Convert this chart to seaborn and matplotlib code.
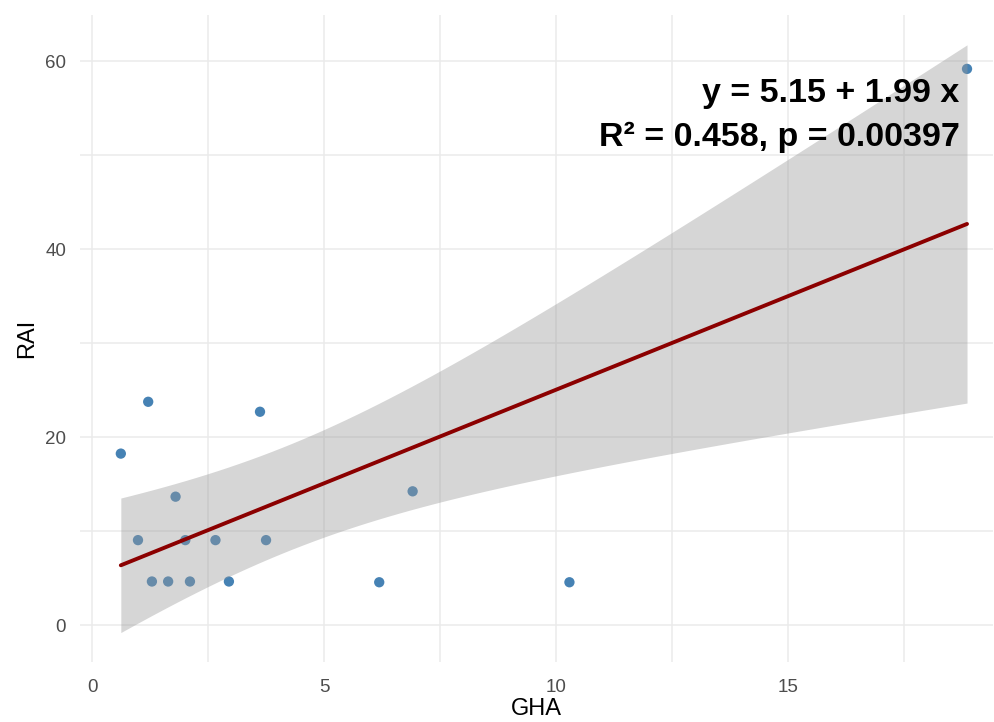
import numpy as np
import pandas as pd
import matplotlib
matplotlib.use("Agg")
import matplotlib.pyplot as plt
from matplotlib.ticker import MultipleLocator
import seaborn as sns

# GHA vs RAI observations
gha = [0.62, 1.21, 3.62, 1.80, 0.99, 2.01, 2.66, 3.75,
       1.29, 1.64, 2.11, 2.95, 6.19, 6.91, 10.29, 18.86]
rai = [18.26, 23.77, 22.71, 13.68, 9.06, 9.06, 9.06, 9.06,
       4.66, 4.66, 4.66, 4.66, 4.58, 14.25, 4.58, 59.17]

# Fitted model as reported in the annotation
intercept = 5.15
slope = 1.99
r_squared = 0.458
p_value = 0.00397

df = pd.DataFrame({"GHA": gha, "RAI": rai})

sns.set_theme(style="whitegrid")
plt.rcParams["font.family"] = ["Liberation Sans", "DejaVu Sans"]

fig = plt.figure(figsize=(9.95, 7.22), dpi=100)
ax = fig.add_axes([80 / 995, 1 - 662 / 722, 913 / 995, 647 / 722])

# points
sns.scatterplot(data=df, x="GHA", y="RAI", ax=ax, color="#4682B4",
                s=55, edgecolor="none", linewidth=0, zorder=3)

# 95% confidence band for the mean response (t, df = n - 2)
x = np.asarray(gha)
y = np.asarray(rai)
n = len(x)
resid = y - (intercept + slope * x)
sigma = np.sqrt(np.sum(resid ** 2) / (n - 2))
sxx = np.sum((x - x.mean()) ** 2)
t_crit = 2.144787  # t(0.975, 14)
grid = np.linspace(x.min(), x.max(), 80)
fit = intercept + slope * grid
se = sigma * np.sqrt(1 / n + (grid - x.mean()) ** 2 / sxx)
ax.fill_between(grid, fit - t_crit * se, fit + t_crit * se,
                color="#999999", alpha=0.4, linewidth=0, zorder=4)

line_df = pd.DataFrame({"GHA": grid, "RAI": fit})
sns.lineplot(data=line_df, x="GHA", y="RAI", ax=ax, color="#8B0000",
             linewidth=2.8, zorder=5)

ax.set_xlim(-0.26, 19.42)
ax.set_ylim(-3.9, 64.9)
ax.xaxis.set_major_locator(MultipleLocator(5))
ax.xaxis.set_minor_locator(MultipleLocator(2.5))
ax.yaxis.set_major_locator(MultipleLocator(20))
ax.yaxis.set_minor_locator(MultipleLocator(10))
ax.grid(which="major", color="#EBEBEB", linewidth=1.1)
ax.grid(which="minor", color="#EBEBEB", linewidth=1.1)
ax.set_axisbelow(True)
for s in ax.spines.values():
    s.set_visible(False)
ax.tick_params(axis="both", which="both", length=0, labelsize=13.5,
               labelcolor="#4D4D4D")
ax.tick_params(axis="x", pad=12)
ax.tick_params(axis="y", pad=10)

ax.set_xlabel("GHA", fontsize=17, color="black", labelpad=2)
ax.set_ylabel("RAI", fontsize=17, color="black", labelpad=5)

ax.text(18.7, 55.65, f"y = {intercept:.2f} + {slope:.2f} x",
        ha="right", va="baseline", fontsize=24.5, fontweight="bold",
        color="black", zorder=6)
ax.text(18.7, 50.96, f"R² = {r_squared:.3f}, p = {p_value:.5f}",
        ha="right", va="baseline", fontsize=24.5, fontweight="bold",
        color="black", zorder=6)

fig.savefig("out.png", dpi=100)
